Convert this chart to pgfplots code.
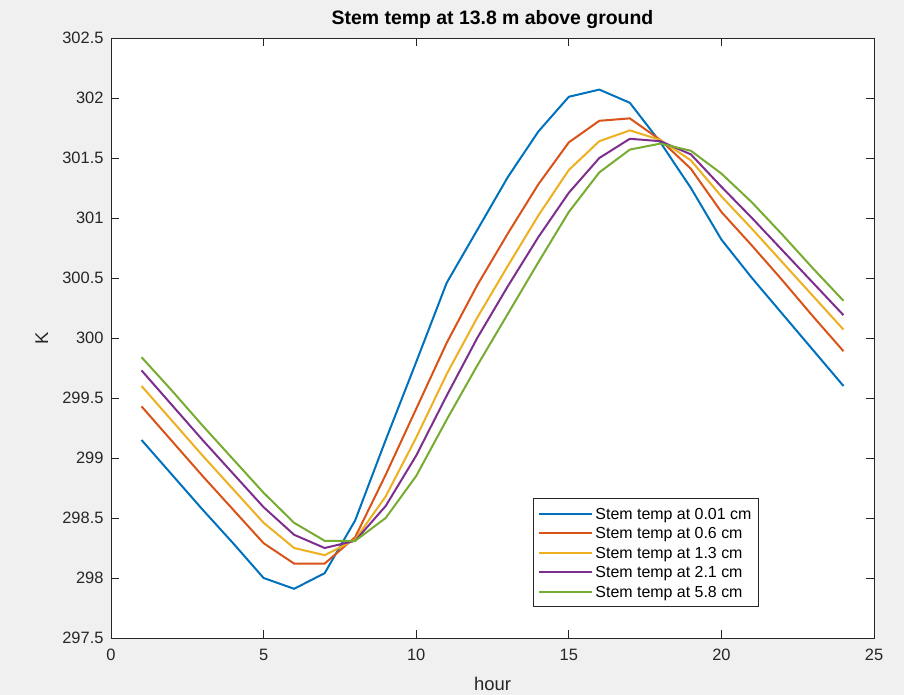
\documentclass[border=0pt]{standalone}
\usepackage{pgfplots}
\pgfplotsset{compat=1.18}
\usepackage{fontspec}
\setmainfont{Liberation Sans}
\definecolor{figbg}{RGB}{240,240,240}
\definecolor{axgray}{rgb}{0.15,0.15,0.15}
\definecolor{c1}{rgb}{0,0.447,0.741}
\definecolor{c2}{rgb}{0.85,0.325,0.098}
\definecolor{c3}{rgb}{0.929,0.694,0.125}
\definecolor{c4}{rgb}{0.494,0.184,0.556}
\definecolor{c5}{rgb}{0.466,0.674,0.188}
\begin{document}
\begin{tikzpicture}[x=1bp,y=1bp]
\fill[figbg] (0,0) rectangle (904,695);
\begin{axis}[
  at={(111bp,57bp)}, anchor=south west,
  scale only axis, width=763bp, height=600bp,
  xmin=0, xmax=25, ymin=297.5, ymax=302.5,
  xtick={0,5,10,15,20,25},
  ytick={297.5,298,298.5,299,299.5,300,300.5,301,301.5,302,302.5},
  tick align=inside,
  major tick length=8bp,
  axis line style={axgray, line width=0.8bp},
  every tick/.style={axgray, line width=0.8bp},
  axis background/.style={fill=white},
  /pgf/number format/assume math mode=true,
  /pgf/number format/.cd, fixed, precision=1, 1000 sep={},
  /pgfplots/.cd,
  tick label style={font=\fontsize{16.5}{19}\selectfont, text=axgray},
  xticklabel style={yshift=-8bp},
  yticklabel style={xshift=-4bp},
  title={\bfseries Stem temp at 13.8 m above ground},
  title style={font=\fontsize{19.5}{22}\selectfont, at={(axis description cs:0.5,1)}, anchor=base, yshift=7.3bp},
  xlabel={hour}, ylabel={K},
  label style={font=\fontsize{18.5}{21}\selectfont, text=axgray},
  xlabel style={at={(axis description cs:0.5,-0.0867)}, anchor=base},
  ylabel style={at={(axis description cs:-0.0908,0.5)}, anchor=center},
  legend style={at={(0.849,0.052)}, anchor=south east, draw=axgray, line width=0.8bp,
    font=\fontsize{16}{18}\selectfont, row sep=5bp, inner xsep=5bp, inner ysep=7.5bp,
    nodes={inner xsep=2bp, inner ysep=1bp, text height=12bp, text depth=0.5bp}},
  legend cell align=left,
  legend image code/.code={\draw[#1] (0bp,0bp) -- (53bp,0bp);},
]
\addplot[c1, line width=2bp] coordinates {(1,299.15)(2,298.86)(3,298.57)(4,298.29)(5,298.0)(6,297.91)(7,298.04)(8,298.48)(9,299.15)(10,299.8)(11,300.46)(12,300.9)(13,301.34)(14,301.72)(15,302.01)(16,302.07)(17,301.96)(18,301.63)(19,301.25)(20,300.82)(21,300.5)(22,300.2)(23,299.9)(24,299.6)};
\addlegendentry{Stem temp at 0.01 cm}
\addplot[c2, line width=2bp] coordinates {(1,299.43)(2,299.14)(3,298.85)(4,298.57)(5,298.29)(6,298.12)(7,298.12)(8,298.34)(9,298.86)(10,299.41)(11,299.96)(12,300.44)(13,300.87)(14,301.28)(15,301.63)(16,301.81)(17,301.83)(18,301.65)(19,301.41)(20,301.05)(21,300.77)(22,300.48)(23,300.18)(24,299.89)};
\addlegendentry{Stem temp at 0.6 cm}
\addplot[c3, line width=2bp] coordinates {(1,299.6)(2,299.31)(3,299.02)(4,298.74)(5,298.46)(6,298.25)(7,298.19)(8,298.32)(9,298.68)(10,299.17)(11,299.7)(12,300.17)(13,300.6)(14,301.02)(15,301.4)(16,301.64)(17,301.73)(18,301.65)(19,301.48)(20,301.18)(21,300.91)(22,300.63)(23,300.35)(24,300.07)};
\addlegendentry{Stem temp at 1.3 cm}
\addplot[c4, line width=2bp] coordinates {(1,299.73)(2,299.44)(3,299.15)(4,298.87)(5,298.59)(6,298.36)(7,298.25)(8,298.31)(9,298.6)(10,299.02)(11,299.52)(12,300.0)(13,300.43)(14,300.84)(15,301.21)(16,301.5)(17,301.66)(18,301.64)(19,301.53)(20,301.26)(21,301.0)(22,300.73)(23,300.46)(24,300.19)};
\addlegendentry{Stem temp at 2.1 cm}
\addplot[c5, line width=2bp] coordinates {(1,299.84)(2,299.56)(3,299.27)(4,298.99)(5,298.71)(6,298.46)(7,298.31)(8,298.31)(9,298.5)(10,298.85)(11,299.32)(12,299.77)(13,300.2)(14,300.63)(15,301.05)(16,301.38)(17,301.57)(18,301.62)(19,301.56)(20,301.37)(21,301.13)(22,300.86)(23,300.58)(24,300.31)};
\addlegendentry{Stem temp at 5.8 cm}
\end{axis}
\end{tikzpicture}
\end{document}
